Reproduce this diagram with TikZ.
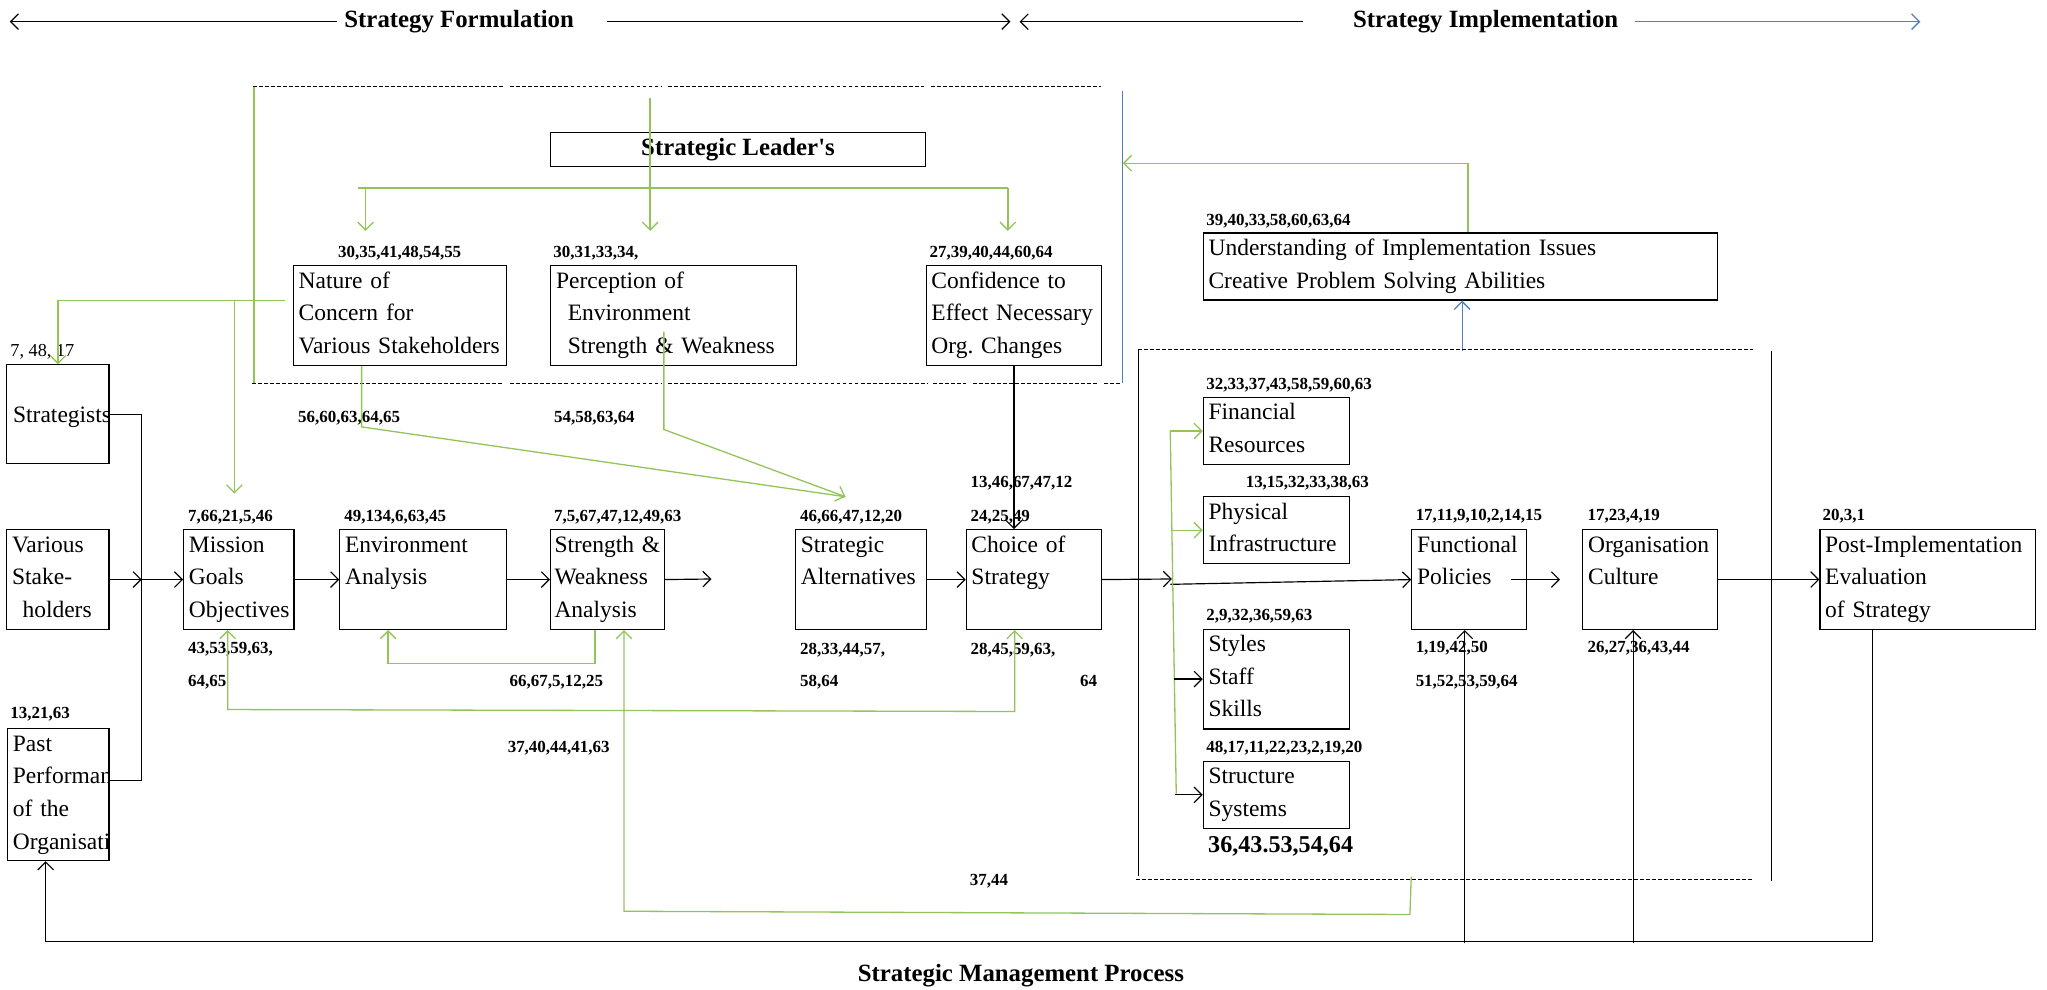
\documentclass[tikz,border=0pt]{standalone}
\usepackage{fontspec}
\setmainfont{Liberation Serif}
\usetikzlibrary{arrows.meta, positioning, calc}
\definecolor{lgreen}{RGB}{146,196,90}
\definecolor{lblue}{RGB}{79,129,189}
\frenchspacing

\begin{document}
\begin{tikzpicture}[x=1pt, y=-1pt, line width=0.9pt, > = {Straight Barb[length=6pt,width=12pt]},
  blk/.style={draw, anchor=north west, align=left, inner xsep=4pt, inner ysep=4.2pt, text height=13pt, font=\fontsize{18}{25}\selectfont},
  l2/.style={text depth=30pt}, l3/.style={text depth=55pt}, l4/.style={text depth=80pt},
  num/.style={anchor=west, inner sep=0pt, text height=9pt, text depth=0pt, font=\fontsize{13}{15}\selectfont\bfseries},
  hdr/.style={inner sep=0pt, font=\fontsize{19}{22}\selectfont\bfseries},
  gline/.style={draw=lgreen, line width=1pt},
  bline/.style={draw=lblue, line width=1pt},
  dline/.style={dash pattern=on 3pt off 1.6pt, line width=0.9pt},
]
\useasboundingbox (0,0) rectangle (1568,757.6);

% headings
\node[hdr] (form) at (351.7,16.6) {Strategy Formulation};
\node[hdr] (impl) at (1138,16.6) {Strategy Implementation};
\coordinate (formL) at (7.5,16.6);
\coordinate (formR) at (774,16.6);
\coordinate (implL) at (781,16.6);
\coordinate (implR) at (1471,16.6);
\draw[->] ([xshift=-5pt]form.west) -- (formL);
\draw[->] ([xshift=25pt]form.east) -- (formR);
\draw[->] ([xshift=-38pt]impl.west) -- (implL);
\draw[bline, ->] ([xshift=12pt]impl.east) -- (implR);
\node[hdr] (title) at (782,747) {Strategic Management Process};

% leader's frame
\foreach \a/\b in {193.5/386, 391/507, 512/708, 713/843}
  \draw[dline] (\a,66.4) -- (\b,66.4);
\foreach \a/\b in {193/386, 391/507, 512/710, 715/740, 745/840, 846/859.5}
  \draw[dline] (\a,293.6) -- (\b,293.6);
\draw[gline] (194.6,66.4) -- (194.6,293.6);
\coordinate (blueT) at (860,69.4);
\coordinate (blueB) at (860,293.3);
\draw[bline] (blueT) -- (blueB);

\node[draw, minimum width=287.5pt, minimum height=26pt, inner sep=0pt, font=\fontsize{19}{22}\selectfont\bfseries] (lead) at (565.3,114.7) {Strategic Leader\textquotesingle s};

\node[blk, l3, text width=155pt] (nature) at (224.3,203) {Nature of\\Concern for\\Various Stakeholders};
\node[blk, l3, text width=180pt] (percep) at (421.5,203) {Perception of\\\hspace*{9pt}Environment\\\hspace*{9pt}Strength \& Weakness};
\node[blk, l3, text width=126.4pt] (conf) at (709,203) {Confidence to\\Effect Necessary\\Org. Changes};

\node[num] (natureN) at (258.6,192.8) {30,35,41,48,54,55};
\node[num] (percepN) at (423.5,192.8) {30,31,33,34,};
\node[num] (confN) at (711.6,192.8) {27,39,40,44,60,64};
\node[num] (natureS) at (228,319) {56,60,63,64,65};
\node[num] (percepS) at (424,319) {54,58,63,64};

\coordinate (leadT) at (498,75);
\draw[gline,->, shorten >=11pt] (leadT) -- (leadT |- percepN.north);
\coordinate (forkL) at (274,144);
\coordinate (forkR) at (772,144);
\coordinate (fkN) at (280,144);
\draw[gline] (forkL) -- (forkR);
\draw[gline,->, shorten >=11pt] (fkN) -- (fkN |- natureN.north);
\draw[gline,->, shorten >=11pt] (forkR) -- (forkR |- confN.north);

% implementation understanding
\node[blk, l2, text width=386pt] (und) at (921.3,178) {Understanding of Implementation Issues\\Creative Problem Solving Abilities};
\node[num] (undN) at (923.6,168.5) {39,40,33,58,60,63,64};
\coordinate (undT) at (1124.5,125);
\draw[gline,->] (und.north -| undT) -- (undT) -- (undT -| blueT);
\coordinate (undB) at (1120,268.6);
\draw[bline,->] (undB) -- (undB |- und.south);

% implementation frame
\draw[dline] (871.5,268) -- (1342.5,268);
\draw[dline] (870,673.5) -- (1343,673.5);
\draw (872,267) -- (872,671);
\draw (1357,268.5) -- (1357,675);

% left column
\node[blk, text width=68.6pt, inner xsep=4.8pt, minimum height=75.8pt, text depth=0pt] (strat) at (4.8,279) {Strategists};
\node[blk, l3, text width=70.2pt] (vs) at (4.8,405.3) {Various\\Stake-\\\hspace*{8pt}holders};
\node[blk, l4, text width=70pt, path picture={
  \node[anchor=north west, inner sep=0pt, align=left, text width=120pt, text height=13pt, font=\fontsize{18}{25}\selectfont]
    at ([xshift=4pt,yshift=-4.2pt]path picture bounding box.north west) {Past\\Performance\\of the\\Organisation};}] (past) at (5,557.4) {};
\node[anchor=west, inner sep=0pt, text height=9pt, text depth=0pt, font=\fontsize{14}{16}\selectfont] (stratN) at (7.5,268.9) {7, 48, 17};
\node[num] (pastN) at (7.5,546) {13,21,63};

% formulation row
\node[blk, l3, text width=76.4pt] (mission) at (140.3,405.3) {Mission\\Goals\\Objectives};
\node[blk, l3, text width=119.5pt] (env) at (259.9,405.3) {Environment\\Analysis};
\node[blk, l3, text width=81.2pt, inner xsep=3pt] (sw) at (421.3,405.3) {\mbox{Strength \&}\\Weakness\\Analysis};
\node[blk, l3, text width=92.3pt] (alt) at (609,405.3) {Strategic\\Alternatives};
\node[blk, l3, text width=95.3pt] (choice) at (739.7,405.3) {Choice of\\Strategy};

\node[num] (missionN) at (143.6,395) {7,66,21,5,46};
\node[num] (missionS) at (143.6,496) {43,53,59,63,};
\node[num] (missionS2) at (143.6,521) {64,65};
\node[num] (envN) at (263.3,395) {49,134,6,63,45};
\node[num] (swN) at (424,395) {7,5,67,47,12,49,63};
\node[num] (swS) at (390,521) {66,67,5,12,25};
\node[num] (altN) at (612.5,395) {46,66,47,12,20};
\node[num] (altS) at (612.5,496.5) {28,33,44,57,};
\node[num] (altS2) at (612.5,521.6) {58,64};
\node[num] (choiceN) at (743,369) {13,46,67,47,12};
\node[num] (choiceN2) at (743,395) {24,25,49};
\node[num] (choiceS) at (743,496.5) {28,45,59,63,};
\node[num] (choiceS2) at (827,521.6) {64};
\node[num] (upN) at (388.5,572) {37,40,44,41,63};
\node[num] (botN) at (742.5,673.5) {37,44};

% inputs to mission
\coordinate (jn) at ($(vs.east)+(24.7,0)$);
\draw (strat.east) -| (jn);
\draw ([yshift=11pt]past.east) -| (jn);
\draw[->] (vs.east) -- (jn);
\draw[->] (jn) -- (mission.west);
\coordinate (gs) at (218,230);
\coordinate (gm) at (179.5,230);
\draw[gline,->] (gs) -| (strat.north);
\draw[gline,->, shorten >=12pt] (gm) -- (gm |- missionN.north);

\draw[->] (mission.east) -- (env.west);
\draw[->] (env.east) -- (sw.west);
\coordinate (swR) at (545,443.5);
\draw[->] (sw.east) -- (swR);
\draw[->] (alt.east) -- (choice.west);
\draw[->] (conf.south) -- (conf.south |- choice.north);

% green feedback in formulation
\coordinate (nd) at (277,327);
\coordinate (pdT) at (508.5,254);
\coordinate (pd) at (508.5,329);
\coordinate (altT) at (647.6,380.5);
\draw[gline] (nature.south -| nd) -- (nd) -- (altT);
\draw[gline,->] (pdT) -- (pd) -- (altT);
\coordinate (swl) at (455.8,508);
\coordinate (envl) at (297.3,508);
\draw[gline,->] (sw.south -| swl) -- (swl) -- (envl) -- (envl |- env.south);
\coordinate (mcL) at (174.4,543.5);
\coordinate (mcR) at (777.3,545);
\draw[gline,<->] (mission.south -| mcL) -- (mcL) -- (mcR) -- (mcR |- choice.south);
\coordinate (upL) at (478,698);
\coordinate (upR) at (1080,700.5);
\coordinate (upT) at (1081,671.5);
\draw[gline,->] (upT) -- (upR) -- (upL) -- (upL |- sw.south);

% implementation column
\node[blk, l2, text width=103.9pt] (fin) at (921.3,304) {Financial\\Resources};
\node[blk, l2, text width=103.9pt] (phys) at (921.3,380) {Physical\\Infrastructure};
\node[blk, l3, text width=103.9pt] (styles) at (921.3,481.5) {Styles\\Staff\\Skills};
\node[blk, l2, text width=103.9pt] (struct) at (921.3,582.7) {Structure\\Systems};
\node[num] (finN) at (923.6,293.8) {32,33,37,43,58,59,60,63};
\node[num] (physN) at (953.8,369) {13,15,32,33,38,63};
\node[num] (stylesN) at (923.6,471) {2,9,32,36,59,63};
\node[num] (structN) at (923.6,571.7) {48,17,11,22,23,2,19,20};
\node[num, font=\fontsize{18.5}{20}\selectfont\bfseries, text height=12pt] (structS) at (925,647) {36,43.53,54,64};

\node[blk, l3, text width=79.6pt] (func) at (1081,405.3) {Functional\\Policies};
\node[blk, l3, text width=95.3pt] (org) at (1212,405.3) {Organisation\\Culture};
\node[blk, l3, text width=157.4pt] (post) at (1393.6,405.3) {Post-Implementation\\Evaluation\\of Strategy};
\node[num] (funcN) at (1084,394.5) {17,11,9,10,2,14,15};
\node[num] (funcS) at (1084,495) {1,19,42,50};
\node[num] (funcS2) at (1084,521) {51,52,53,59,64};
\node[num] (orgN) at (1215.7,394.5) {17,23,4,19};
\node[num] (orgS) at (1215.7,495) {26,27,36,43,44};
\node[num] (postN) at (1395.7,394.5) {20,3,1};

\coordinate (cR) at (897.7,443.5);
\coordinate (cR2) at (896.5,447.6);
\draw[->] (choice.east) -- (cR);
\draw[->] (cR2) -- (func.west);
\coordinate (gvT) at (896.4,330);
\coordinate (gvB) at (901,608);
\draw[gline] (gvT) -- (gvB);
\draw[gline,->] (gvT |- fin.west) -- (fin.west);
\draw[gline,->] ([xshift=1pt]gvT |- phys.west) -- (phys.west);
\draw[->] ([xshift=3pt]gvT |- styles.west) -- (styles.west);
\draw[->] ([xshift=4pt]gvT |- struct.west) -- (struct.west);

\draw[->] ([xshift=-12pt]func.east) -- ([xshift=-17pt]org.west);
\draw[->] (org.east) -- (post.west);

% feedback along the bottom
\coordinate (bL) at (35,721.3);
\coordinate (bR) at (1434.6,721.3);
\draw[->] (bR |- post.south) -- (bR) -- (bL) -- (bL |- past.south);
\coordinate (bF) at (1122,722.6);
\coordinate (bO) at (1251,722.6);
\draw[->] (bF) -- (bF |- func.south);
\draw[->] (bO) -- (bO |- org.south);
\end{tikzpicture}
\end{document}
